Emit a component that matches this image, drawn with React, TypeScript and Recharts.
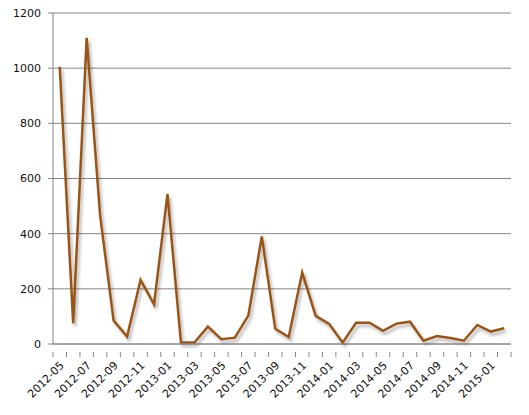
import React from 'react';
import { LineChart, Line, XAxis, YAxis, CartesianGrid } from 'recharts';

const months = [
    '2012-05', '2012-06', '2012-07', '2012-08', '2012-09', '2012-10', '2012-11', '2012-12',
    '2013-01', '2013-02', '2013-03', '2013-04', '2013-05', '2013-06', '2013-07', '2013-08',
    '2013-09', '2013-10', '2013-11', '2013-12', '2014-01', '2014-02', '2014-03', '2014-04',
    '2014-05', '2014-06', '2014-07', '2014-08', '2014-09', '2014-10', '2014-11', '2014-12',
    '2015-01', '2015-02',
];

const counts = [
    1005, 75, 1110, 465, 85, 27, 232, 144,
    543, 5, 5, 63, 17, 23, 103, 390,
    55, 25, 259, 102, 73, 5, 77, 77,
    48, 74, 81, 12, 29, 22, 12, 69,
    45, 57,
];

const yTicks = [0, 200, 400, 600, 800, 1000, 1200];

const chartData = months.map((m, i) => ({ month: m, value: counts[i] }));

const CHART_W = 529;
const CHART_H = 415;
const PLOT_LEFT = 53;
const PLOT_RIGHT = 18;
const CAT_W = (CHART_W - PLOT_LEFT - PLOT_RIGHT) / months.length;
const AXIS_GREY = '#868686';
const FONT = '"DejaVu Sans", sans-serif';

// tick marks sit on category boundaries, labels on every other month
const MonthTick = (props: any) => {
    const { x, y, payload, index } = props;
    const half = CAT_W / 2;
    const isLast = index === months.length - 1;
    return (
        <g>
            <line x1={x - half} y1={y} x2={x - half} y2={y + 5} stroke={AXIS_GREY} />
            {isLast && <line x1={x + half} y1={y} x2={x + half} y2={y + 5} stroke={AXIS_GREY} />}
            {index % 2 === 0 && (
                <text
                    x={x + 5}
                    y={y + 14}
                    transform={`rotate(-45 ${x + 5} ${y + 14})`}
                    textAnchor="end"
                    fontSize={11}
                    fontFamily={FONT}
                    fill="#111"
                >
                    {payload.value}
                </text>
            )}
        </g>
    );
};

export default function App() {
    return (
        <div style={{ position: 'absolute', left: 0, top: 0, background: '#fff' }}>
            <LineChart
                width={CHART_W}
                height={CHART_H}
                data={chartData}
                margin={{ top: 13, right: PLOT_RIGHT, bottom: 0, left: 0 }}
            >
                <defs>
                    <filter id="lineShadow" x="-10%" y="-10%" width="130%" height="130%">
                        <feDropShadow dx="2" dy="3" stdDeviation="1.8" floodColor="#000" floodOpacity="0.3" />
                    </filter>
                </defs>
                <CartesianGrid vertical={false} stroke={AXIS_GREY} strokeWidth={1} />
                <XAxis
                    dataKey="month"
                    scale="band"
                    interval={0}
                    height={71}
                    stroke={AXIS_GREY}
                    tickLine={false}
                    tick={<MonthTick />}
                />
                <YAxis
                    domain={[0, 1200]}
                    ticks={yTicks}
                    width={PLOT_LEFT}
                    stroke={AXIS_GREY}
                    tickSize={5}
                    tickMargin={7}
                    tick={{ fontSize: 11, fontFamily: FONT, fill: '#111' }}
                />
                <Line
                    type="linear"
                    dataKey="value"
                    stroke="#985417"
                    strokeWidth={2.5}
                    dot={false}
                    filter="url(#lineShadow)"
                    isAnimationActive={false}
                />
            </LineChart>
        </div>
    );
}
